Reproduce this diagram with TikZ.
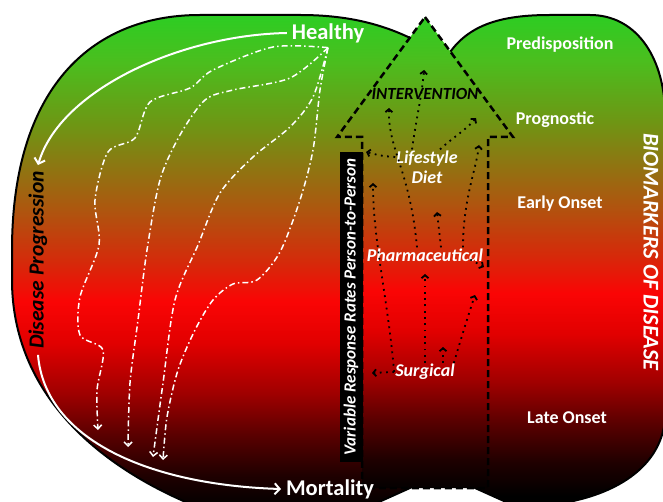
\documentclass[tikz,border=0pt]{standalone}
\usepackage{fontspec}
\setmainfont{Carlito}
\usepackage{tikz}
\usetikzlibrary{arrows.meta}

\definecolor{stageGreen}{RGB}{45,205,35}
\definecolor{stageLime}{RGB}{75,190,30}
\definecolor{stageOlive}{RGB}{110,150,20}
\definecolor{stageBrown}{RGB}{175,85,15}
\definecolor{stageOrange}{RGB}{215,40,10}
\definecolor{stageRed}{RGB}{250,5,5}
\definecolor{stageCrimson}{RGB}{225,0,0}
\definecolor{stageDark}{RGB}{160,0,0}
\definecolor{stageDeep}{RGB}{90,0,0}
\definecolor{stageNight}{RGB}{30,0,0}

\pgfdeclareverticalshading{stageshade}{100bp}{color(0bp)=(black); color(26bp)=(black);
  color(29.2bp)=(stageNight); color(33.2bp)=(stageDeep); color(37.2bp)=(stageDark);
  color(42bp)=(stageCrimson); color(46bp)=(stageRed); color(49.6bp)=(stageOrange);
  color(54.7bp)=(stageBrown); color(63bp)=(stageOlive); color(69bp)=(stageLime);
  color(73.5bp)=(stageGreen); color(100bp)=(stageGreen)}

\tikzset{
shaded/.style = {path picture={\shade[shading=stageshade] (0,0) rectangle (663,502);}},
stage/.style = {text=white, font=\bfseries\fontsize{18}{20}\selectfont, inner sep=1pt},
outcome/.style = {text=white, font=\bfseries\fontsize{22.5}{25}\selectfont, inner sep=1pt, outer sep=4pt},
therapy/.style = {text=white, font=\bfseries\itshape\fontsize{18}{20}\selectfont, inner sep=1pt, align=center},
course/.style = {white, line width=2pt, -{Straight Barb[length=5pt,width=11pt]}},
pathway/.style = {white, line width=1.5pt, dash pattern=on 6pt off 3pt on 1.5pt off 3pt,
                  -{Straight Barb[length=4pt,width=8pt]}},
effect/.style = {black, line width=1.8pt, dash pattern=on 1.8pt off 4.5pt,
                 -{Straight Barb[length=3pt,width=7pt]}}
}

\begin{document}
\begin{tikzpicture}[x=1pt, y=-1pt]
  \useasboundingbox (0,0) rectangle (663,502);
  \clip (0,0) rectangle (663,502);
  \fill[white] (0,0) rectangle (663,502);

  % disease course region and biomarker region
  \draw[shaded, line width=2pt] (12,250) .. controls (12,90) and (90,15) .. (200,15) -- (300,15)
    .. controls (350,15) and (395,25) .. (440,55) -- (440,470) -- (410,488) -- (370,506)
    -- (350,520) -- (200,520) -- (200,508) .. controls (80,460) and (12,380) .. (12,280) -- cycle;
  \draw[shaded, line width=2pt] (445,60) .. controls (465,25) and (500,15) .. (550,15) -- (590,15)
    .. controls (635,15) and (663,55) .. (665,110) -- (665,420)
    .. controls (660,470) and (610,500) .. (540,506) -- (515,506) -- (475,488) -- (450,470) -- cycle;

  % intervention arrow
  \coordinate (tipTop) at (425,17);
  \coordinate (headRight) at (513,137);
  \coordinate (shaftRight) at (488,137);
  \coordinate (baseRight) at (488,488);
  \coordinate (baseLeft) at (362,488);
  \coordinate (shaftLeft) at (362,137);
  \coordinate (headLeft) at (337,137);
  \draw[shaded, line width=2.5pt, dash pattern=on 7pt off 4pt]
    (tipTop) -- (headRight) -- (shaftRight) -- (baseRight) -- (baseLeft) -- (shaftLeft) -- (headLeft) -- cycle;

  \node[fill=black, text=white, rotate=90, minimum width=310pt, minimum height=23pt, inner sep=0pt,
        font=\bfseries\itshape\fontsize{17}{19}\selectfont] (variable) at (351,307) {Variable Response Rates Person-to-Person};

  % labels
  \node[outcome] (healthy) at (328,33) {Healthy};
  \node[outcome] (mortality) at (330,489) {Mortality};
  \node[font=\bfseries\itshape\fontsize{21.5}{24}\selectfont, rotate=90, inner sep=1pt, outer sep=5pt] (progression) at (38,260) {Disease Progression};

  \node[stage] (predisp) at (560,45) {Predisposition};
  \node[stage] (prognostic) at (555,120) {Prognostic};
  \node[stage] (earlyonset) at (560,204) {Early Onset};
  \node[stage] (lateonset) at (567,418) {Late Onset};
  \node[text=white, font=\bfseries\itshape\fontsize{22.5}{24}\selectfont, rotate=-90, inner sep=1pt] (biomarkers) at (651,252) {BIOMARKERS OF DISEASE};

  \node[font=\bfseries\itshape\fontsize{17}{19}\selectfont, inner sep=1pt] (intervention) at (425,94) {INTERVENTION};
  \node[therapy] (lifestyle) at (427,167) {Lifestyle\\Diet};
  \node[therapy] (pharma) at (425,255) {Pharmaceutical};
  \node[therapy] (surgical) at (425,372) {Surgical};

  % progression from healthy to mortality
  \draw[course] (healthy.west) .. controls (180,35) and (60,90) .. (progression.east);
  \draw[course] (progression.west) .. controls (45,440) and (150,485) .. (mortality.west);

  % individual pathways
  \draw[pathway] plot[smooth] coordinates {(healthy.south) (273,47) (213,70) (190,88) (150,102) (135,138)
    (108,152) (95,200) (99,245) (80,297) (80,335) (103,350) (97,390) (98,430)};
  \draw[pathway] plot[smooth] coordinates {(healthy.south) (290,78) (233,90) (205,100) (180,135) (160,180)
    (147,250) (138,320) (130,383) (128,447)};
  \draw[pathway] plot[smooth] coordinates {(healthy.south) (313,97) (290,127) (253,157) (220,193) (198,245)
    (175,300) (163,383) (153,457)};
  \draw[pathway] plot[smooth] coordinates {(healthy.south) (320,90) (313,150) (300,200) (280,252) (257,280)
    (233,284) (213,300) (195,330) (178,370) (167,417) (163,460)};

  % response to interventions
  \coordinate (lifeUp) at (424,70);
  \coordinate (lifeRight) at (476,118);
  \coordinate (lifeLeft) at (366,152);
  \coordinate (pharmaUpLeft) at (389,108);
  \coordinate (pharmaUpRight) at (479,145);
  \coordinate (pharmaUp) at (437,212);
  \coordinate (pharmaRight) at (484,267);
  \coordinate (surgUpLeft) at (373,183);
  \coordinate (surgUp) at (425,274);
  \coordinate (surgUpRight) at (475,295);
  \coordinate (surgUpShort) at (443,347);
  \coordinate (surgLeft) at (372,373);

  \draw[effect] ([xshift=-15pt]lifestyle.north) .. controls (416,120) and (422,95) .. (lifeUp);
  \draw[effect] ([xshift=13pt]lifestyle.north) .. controls (452,138) and (466,130) .. (lifeRight);
  \draw[effect] ([yshift=10pt]lifestyle.west) .. controls (382,156) .. (lifeLeft);
  \draw[effect] ([xshift=-8pt]pharma.north) .. controls (410,170) and (388,150) .. (pharmaUpLeft);
  \draw[effect] ([xshift=38pt]pharma.north) .. controls (463,200) and (476,170) .. (pharmaUpRight);
  \draw[effect] ([xshift=16pt]pharma.north) -- (pharmaUp);
  \draw[effect] ([xshift=-14pt,yshift=3pt]pharma.south east) -- (pharmaRight);
  \draw[effect] (surgical.west) .. controls (388,300) and (373,240) .. (surgUpLeft);
  \draw[effect] (surgical.north) -- (surgUp);
  \draw[effect] ([xshift=-2pt]surgical.north east) .. controls (462,335) and (470,310) .. (surgUpRight);
  \draw[effect] ([xshift=18pt]surgical.north) -- (surgUpShort);
  \draw[effect] (surgical.west) -- (surgLeft);
\end{tikzpicture}
\end{document}
